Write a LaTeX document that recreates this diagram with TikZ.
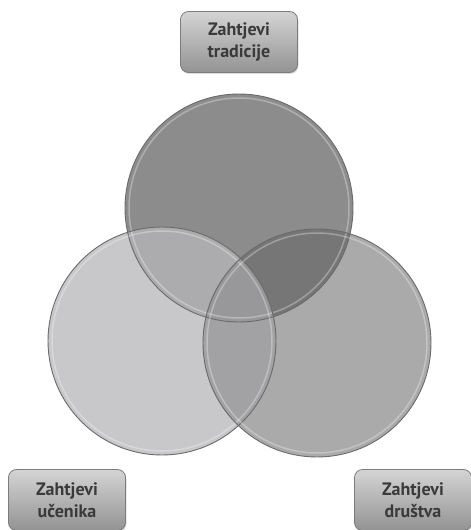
\documentclass[tikz,border=0pt]{standalone}
\usepackage{fontspec}
\setmainfont{PT Sans}
\usetikzlibrary{shadows}
\definecolor{cT}{HTML}{8C8C8C}
\definecolor{cL}{HTML}{C8C8CA}
\definecolor{cR}{HTML}{AAAAAA}
\definecolor{cTL}{HTML}{ACACAE}
\definecolor{cTR}{HTML}{767676}
\definecolor{cLR}{HTML}{A2A2A4}
\definecolor{cTLR}{HTML}{98989A}
\definecolor{rim}{HTML}{6A6A6A}
\definecolor{txt}{HTML}{3A3A3A}
\definecolor{boxtop}{HTML}{D4D4D4}
\definecolor{boxbot}{HTML}{939393}
\definecolor{boxedge}{HTML}{7C7C7C}
\begin{document}
\begin{tikzpicture}[x=1pt,y=-1pt,
  labelbox/.style={rectangle, rounded corners=8pt, draw=boxedge, line width=0.8pt,
    top color=boxtop, bottom color=boxbot, minimum width=117pt, minimum height=61pt,
    align=center, text=txt, font=\fontsize{18}{22}\selectfont\bfseries,
    drop shadow={shadow xshift=1pt, shadow yshift=-1.5pt, opacity=0.25}},
  rimline/.style={draw=rim, line width=0.9pt},
  glow/.style={draw=white, opacity=0.3, line width=1.5pt}]
\useasboundingbox (0,0) rectangle (471,530);
\def\R{114pt}
\coordinate (T) at (239,208);
\coordinate (L) at (162,341);
\coordinate (Rc) at (317,343);
% base fills
\fill[cT] (T) circle[radius=\R];
\fill[cL] (L) circle[radius=\R];
\fill[cR] (Rc) circle[radius=\R];
% pairwise overlaps
\begin{scope}
  \clip (T) circle[radius=\R];
  \fill[cTL] (L) circle[radius=\R];
\end{scope}
\begin{scope}
  \clip (T) circle[radius=\R];
  \fill[cTR] (Rc) circle[radius=\R];
\end{scope}
\begin{scope}
  \clip (L) circle[radius=\R];
  \fill[cLR] (Rc) circle[radius=\R];
\end{scope}
\begin{scope}
  \clip (T) circle[radius=\R];
  \clip (L) circle[radius=\R];
  \fill[cTLR] (Rc) circle[radius=\R];
\end{scope}
% rims
\foreach \c in {T,L,Rc}{
  \draw[glow] (\c) circle[radius=110pt];
  \draw[rimline] (\c) circle[radius=\R];
}
% labels
\node[labelbox] (trad) at (239,42) {Zahtjevi\\tradicije};
\node[labelbox] (ucen) at (67,500) {Zahtjevi\\učenika};
\node[labelbox] (drus) at (413,500) {Zahtjevi\\društva};
\end{tikzpicture}
\end{document}
